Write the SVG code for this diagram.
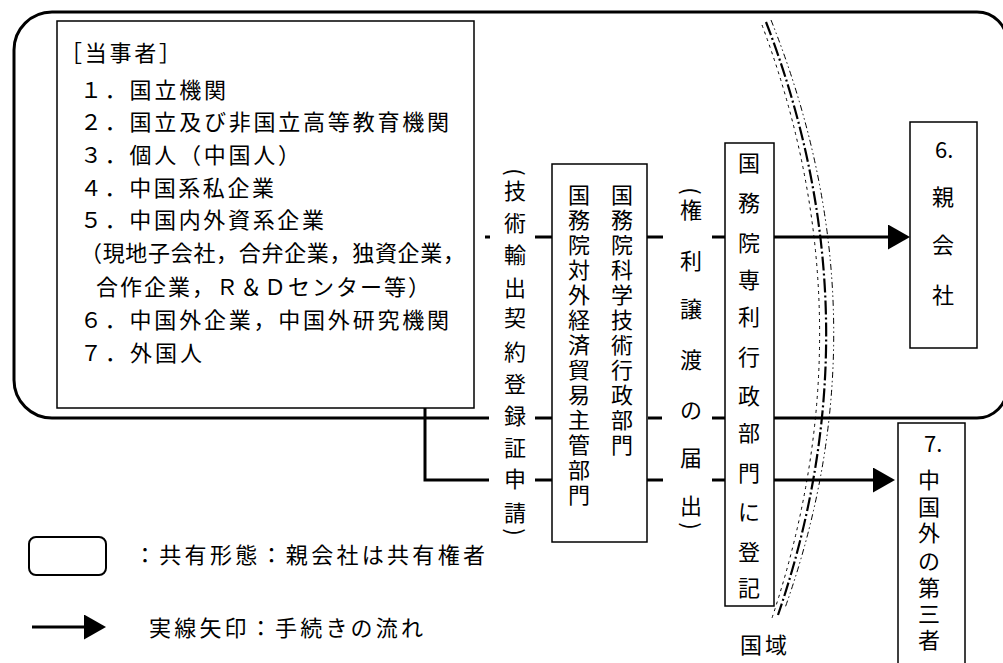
<svg xmlns="http://www.w3.org/2000/svg" width="1003" height="663" viewBox="0 0 1003 663">
<style>
.t { font-family: "Noto Sans CJK JP", "Noto Sans CJK SC", sans-serif; font-size: 22px; fill: #000; }
.v { text-anchor: middle; }
.box { fill: #fff; stroke: #000; stroke-width: 1.5; }
.ln { fill: none; stroke: #000; stroke-width: 3; }
.frame { fill: none; stroke: #000; stroke-width: 3; }
</style>
<defs>
<marker id="ah" markerUnits="userSpaceOnUse" markerWidth="23" markerHeight="26" refX="0" refY="12.5" orient="auto">
<path d="M0,0 L22,12.5 L0,25 Z" fill="#000"/>
</marker>
</defs>
<rect width="1003" height="663" fill="#fff"/>

<g id="sharing-frame">
<path class="frame" d="M52,12 H977 A30,30 0 0 1 1007,42 V388 A30,30 0 0 1 977,418 H774 M725,418 H712 M662,418 H648 M552,418 H535 M489,418 H52 A38,38 0 0 1 14,380 V50 A38,38 0 0 1 52,12"/>
</g>

<g id="national-border">
<path d="M766,22 Q880,317.5 778,615" fill="none" stroke="#000" stroke-width="2.2" stroke-dasharray="14 3 2 3"/>
<path d="M771,20 Q889,316 785,608" fill="none" stroke="#000" stroke-width="1" stroke-dasharray="6 3 1.5 3 1.5 3"/>
<path d="M762,25 Q872,318 772,618" fill="none" stroke="#000" stroke-width="1" stroke-dasharray="3 4"/>
</g>

<g id="connectors">
<path class="ln" d="M485,237 H490 M535,237 H552 M647,237 H663 M712,237 H725"/>
<path class="ln" d="M774,237 H888" marker-end="url(#ah)"/>
<path class="ln" d="M425,408 V480 H489 M535,480 H552 M647,480 H663 M712,480 H725"/>
<path class="ln" d="M774,480 H873" marker-end="url(#ah)"/>
</g>

<g id="parties">
<rect class="box" x="57" y="21" width="417" height="387"/>
<text class="t" x="60" y="61" textLength="121">［当事者］</text>
<text class="t" x="80" y="98" textLength="146">１．国立機関</text>
<text class="t" x="80" y="130" textLength="369">２．国立及び非国立高等教育機関</text>
<text class="t" x="80" y="163" textLength="220">３．個人（中国人）</text>
<text class="t" x="80" y="196" textLength="194">４．中国系私企業</text>
<text class="t" x="80" y="228" textLength="244">５．中国内外資系企業</text>
<text class="t" x="80" y="261" textLength="385">（現地子会社，合弁企業，独資企業，</text>
<text class="t" x="96" y="295" textLength="334">合作企業，Ｒ＆Ｄセンター等）</text>
<text class="t" x="80" y="328" textLength="369">６．中国外企業，中国外研究機関</text>
<text class="t" x="80" y="361" textLength="122">７．外国人</text>
</g>

<g id="label-tech-export">
<text class="t v" transform="translate(515,172) rotate(90)" x="0" y="8">(</text>
<text class="t v" x="515 515 515 515 515 515 515 515 515 515 515" y="199 231 263 296 326 360 392 424 456 487 521">技術輸出契約登録証申請</text>
<text class="t v" transform="translate(515,532) rotate(90)" x="0" y="8">)</text>
</g>

<g id="box-state-council-depts">
<rect class="box" x="552" y="164" width="95" height="378"/>
<text class="t v" x="622 622 622 622 622 622 622 622 622 622 622" y="203 228 253 278 303 328 353 378 403 428 453">国務院科学技術行政部門</text>
<text class="t v" x="579 579 579 579 579 579 579 579 579 579 579 579 579" y="203 228 253 278 303 328 353 378 403 428 453 478 503">国務院対外経済貿易主管部門</text>
</g>

<g id="label-transfer">
<text class="t v" transform="translate(691,191) rotate(90)" x="0" y="8">(</text>
<text class="t v" x="691 691 691 691 691 691 691" y="218 269 317 368 418 466 514">権利譲渡の届出</text>
<text class="t v" transform="translate(691,526) rotate(90)" x="0" y="8">)</text>
</g>

<g id="box-patent-office">
<rect class="box" x="725" y="143" width="49" height="463"/>
<text class="t v" x="749 749 749 749 749 749 749 749 749 749 749 749" y="171 211 251 288 325 365 404 441 481 520 560 596">国務院専利行政部門に登記</text>
</g>

<g id="box-parent">
<rect class="box" x="910" y="122" width="67" height="226"/>
<text class="t" x="935" y="158">6.</text>
<text class="t v" x="943 943 943" y="205 253 303">親会社</text>
</g>

<g id="box-foreign-third-party">
<rect class="box" x="898" y="423" width="67" height="260"/>
<text class="t" x="924" y="452">7.</text>
<text class="t v" x="929 929 929 929 929 929 929" y="488 515 541 569 596 622 648">中国外の第三者</text>
</g>

<g id="label-border">
<text class="t" x="740" y="653" textLength="47">国域</text>
</g>

<g id="legend">
<rect x="29" y="537" width="77" height="38" rx="7" fill="#fff" stroke="#000" stroke-width="2"/>
<text class="t" x="134" y="563" textLength="351">：共有形態：親会社は共有権者</text>
<path class="ln" d="M32,627 H84" marker-end="url(#ah)"/>
<text class="t" x="149" y="636" textLength="274">実線矢印：手続きの流れ</text>
</g>
</svg>
